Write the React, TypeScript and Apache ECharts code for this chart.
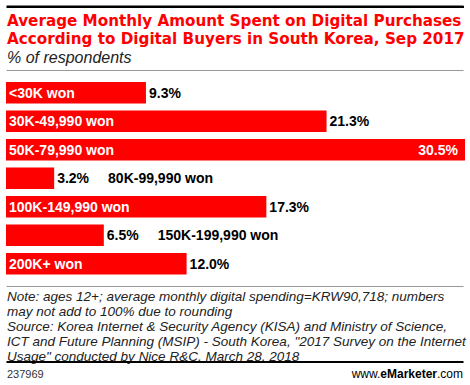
import React, { useEffect, useRef } from "react";
import * as echarts from "echarts";

const categories = [
  "<30K won",
  "30K-49,990 won",
  "50K-79,990 won",
  "80K-99,990 won",
  "100K-149,990 won",
  "150K-199,990 won",
  "200K+ won",
];
const values = [9.3, 21.3, 30.5, 3.2, 17.3, 6.5, 12.0];
// bars too short to hold their own category label
const outsideLabel = [false, false, false, true, false, true, false];

const titleLines = [
  "Average Monthly Amount Spent on Digital Purchases",
  "According to Digital Buyers in South Korea, Sep 2017",
];
const subtitle = "% of respondents";
const noteLines = [
  "Note: ages 12+; average monthly digital spending=KRW90,718; numbers",
  "may not add to 100% due to rounding",
  "Source: Korea Internet & Security Agency (KISA) and Ministry of Science,",
  "ICT and Future Planning (MSIP) - South Korea, \"2017 Survey on the Internet",
  "Usage\" conducted by Nice R&C, March 28, 2018",
];
const chartId = "237969";

const FONT = "Arial, 'Liberation Sans', Helvetica, sans-serif";
const TFONT = "'DejaVu Sans', Verdana, sans-serif";
const RED = "#ff0000";

export default function App() {
  const ref = useRef<HTMLDivElement>(null);
  useEffect(() => {
    if (!ref.current) return;
    const chart = echarts.init(ref.current, null, { renderer: "svg" });
    const maxV = Math.max(...values);

    const catData = values.map((v, i) => ({
      value: v,
      label: {
        show: !outsideLabel[i],
        position: "insideLeft",
        distance: 3,
        formatter: categories[i],
        color: "#ffffff",
        fontFamily: FONT,
        fontWeight: "bold",
        fontSize: 14,
      },
    }));

    const valData = values.map((v, i) => {
      const txt = v.toFixed(1) + "%";
      if (v === maxV) {
        return {
          value: v,
          label: { show: true, position: "insideRight", distance: 7, formatter: txt, color: "#ffffff" },
        };
      }
      if (outsideLabel[i]) {
        return {
          value: v,
          label: {
            show: true,
            position: "right",
            distance: 3,
            formatter: "{v|" + txt + "}{c|" + categories[i] + "}",
            rich: {
              v: { fontFamily: FONT, fontWeight: "bold", fontSize: 14, color: "#000" },
              c: { fontFamily: FONT, fontWeight: "bold", fontSize: 14, color: "#000", padding: [0, 0, 0, 19] },
            },
          },
        };
      }
      return { value: v, label: { show: true, position: "right", distance: 3, formatter: txt } };
    });

    const hline = (id: string, y: number, h: number, color: string) => ({
      type: "rect",
      id,
      shape: { x: 6.5, y, width: 457, height: h },
      style: { fill: color },
      silent: true,
    });

    const txt = (id: string, x: number, y: number, text: string, font: string, fill: string) => ({
      type: "text",
      id,
      x,
      y,
      style: { text, font, fill, align: "left", verticalAlign: "middle" },
      silent: true,
    });

    const graphics: any[] = [
      hline("topline", 5.5, 2.5, "#000"),
      ...titleLines.map((t, i) => txt("title" + i, 7, 20.5 + i * 18, t, `bold 15.2px ${TFONT}`, RED)),
      txt("subtitle", 7, 57, subtitle, `italic 16px ${FONT}`, "#222"),
      hline("subline", 70, 1, "#999"),
      hline("noteline", 286, 1, "#999"),
      ...noteLines.map((t, i) => txt("note" + i, 7, 296 + i * 15, t, `italic 13.5px ${FONT}`, "#222")),
      hline("botline", 361, 2, "#000"),
      txt("chartid", 7, 374, chartId, `11px ${FONT}`, "#333"),
      {
        type: "text",
        id: "brand",
        x: 463,
        y: 374,
        silent: true,
        style: {
          text: "{a|www.}{b|e}{c|Marketer}{a|.com}",
          align: "right",
          verticalAlign: "middle",
          rich: {
            a: { fontFamily: FONT, fontSize: 12, color: "#333" },
            b: { fontFamily: FONT, fontSize: 12, fontWeight: "bold", color: RED },
            c: { fontFamily: FONT, fontSize: 12, fontWeight: "bold", color: "#333" },
          },
        },
      },
    ];

    chart.setOption({
      animation: false,
      grid: { left: 6, right: 5, top: 78.5, height: 199.5, containLabel: false },
      xAxis: { type: "value", min: 0, max: maxV, show: false },
      yAxis: { type: "category", data: categories, inverse: true, show: false },
      series: [
        { type: "bar", data: catData, barWidth: 21.5, itemStyle: { color: RED }, silent: true },
        {
          type: "bar",
          data: valData,
          barWidth: 21.5,
          barGap: "-100%",
          itemStyle: { color: "transparent" },
          label: { fontFamily: FONT, fontWeight: "bold", fontSize: 14, color: "#000" },
          silent: true,
        },
      ],
      graphic: graphics,
    });
    return () => chart.dispose();
  }, []);
  return (
    <div style={{ position: "absolute", left: 0, top: 0, width: 470, height: 385 }}>
      <div
        style={{
          position: "absolute",
          left: 6.5,
          top: 5.5,
          width: 457,
          height: 2.5,
          background: "#000",
        }}
      />
      <div ref={ref} style={{ position: "absolute", left: 0, top: 0, width: 470, height: 385 }} />
    </div>
  );
}
